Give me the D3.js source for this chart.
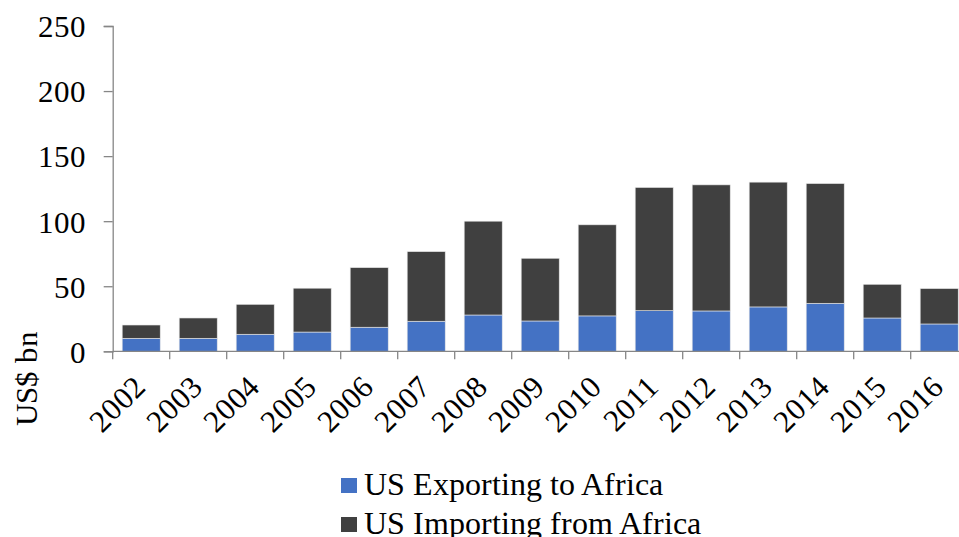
<!DOCTYPE html>
<html><head><meta charset="utf-8"><script src="https://cdn.jsdelivr.net/npm/d3@7"></script>
<style>
@font-face { font-family: "ChartSerif"; src: local("Liberation Serif"), local("LiberationSerif"), local("Times New Roman"); }
</style>
</head>
<body style="margin:0">
<svg id="chart" width="959" height="537" style="font-family: ChartSerif, 'Liberation Serif', serif"></svg>
<script>
const years = ["2002","2003","2004","2005","2006","2007","2008","2009","2010","2011","2012","2013","2014","2015","2016"];
const exporting = [10.0, 10.0, 13.1, 14.8, 18.5, 23.1, 27.9, 23.3, 27.2, 31.2, 31.0, 34.1, 36.9, 25.6, 21.0];
const importing = [10.2, 15.6, 23.0, 33.7, 45.8, 53.5, 72.1, 48.2, 70.0, 94.7, 96.9, 95.9, 92.0, 25.9, 27.2];
const yTicks = [0, 50, 100, 150, 200, 250];
const seriesNames = ["US Exporting to Africa", "US Importing from Africa"];
const seriesColors = ["#4472C4", "#404040"];

const svg = d3.select("#chart");
const plotLeft = 112.7, plotRight = 967.7, plotTop = 26, plotBottom = 351.3;
const FONT = "ChartSerif, 'Liberation Serif', serif";

function serif(sel, size) {
  return sel.style("font-family", FONT).style("font-size", size + "px").attr("fill", "#000");
}

const x = d3.scaleBand().domain(years).range([plotLeft, plotRight]).paddingInner(0.333).paddingOuter(0.1665);
const y = d3.scaleLinear().domain([0, 250]).range([plotBottom, plotTop]);

const rows = years.map((yr, i) => ({ year: yr, exp: exporting[i], imp: importing[i] }));
const stacked = d3.stack().keys(["exp", "imp"])(rows);

svg.append("g").selectAll("g").data(stacked).join("g")
  .attr("fill", (d, i) => seriesColors[i])
  .selectAll("rect").data(d => d).join("rect")
  .attr("x", d => x(d.data.year))
  .attr("width", x.bandwidth())
  .attr("y", d => y(d[1]))
  .attr("height", d => y(d[0]) - y(d[1]))
  .attr("stroke", "#e6e6e6")
  .attr("stroke-width", 0.6);

// Y axis
const yAxis = svg.append("g").attr("transform", `translate(${plotLeft},0)`)
  .call(d3.axisLeft(y).tickValues(yTicks).tickSize(9).tickPadding(18).tickFormat(d3.format("d")));
yAxis.attr("font-family", null).attr("font-size", null);
yAxis.select(".domain").attr("stroke", "#868686").attr("stroke-width", 1.3);
yAxis.selectAll(".tick line").attr("stroke", "#868686").attr("stroke-width", 1.3);
serif(yAxis.selectAll(".tick text"), 31).attr("dy", "0.35em");

// X axis
const xAxisG = svg.append("g");
xAxisG.append("line").attr("x1", plotLeft).attr("x2", plotRight).attr("y1", plotBottom).attr("y2", plotBottom)
  .attr("stroke", "#868686").attr("stroke-width", 1.3);
xAxisG.selectAll("line.tk").data(years).join("line").attr("class", "tk")
  .attr("x1", d => x(d) - (x.step() - x.bandwidth()) / 2)
  .attr("x2", d => x(d) - (x.step() - x.bandwidth()) / 2)
  .attr("y1", plotBottom).attr("y2", plotBottom + 8)
  .attr("stroke", "#868686").attr("stroke-width", 1.3);
serif(xAxisG.selectAll("text").data(years).join("text"), 31)
  .attr("transform", d => `translate(${x(d) + x.bandwidth() / 2 + 6},${plotBottom + 37}) rotate(-45)`)
  .attr("text-anchor", "end")
  .text(d => d);

// Y title
serif(svg.append("text"), 31)
  .attr("transform", "translate(37,378) rotate(-90)")
  .attr("text-anchor", "middle")
  .text("US$ bn");

// Legend
const legend = svg.append("g");
seriesNames.forEach((name, i) => {
  const yy = 478 + i * 39;
  legend.append("rect").attr("x", 341).attr("y", yy).attr("width", 16).attr("height", 15).attr("fill", seriesColors[i]);
  serif(legend.append("text"), 31.5).attr("x", 364).attr("y", yy + 17).text(name);
});
</script></body></html>
